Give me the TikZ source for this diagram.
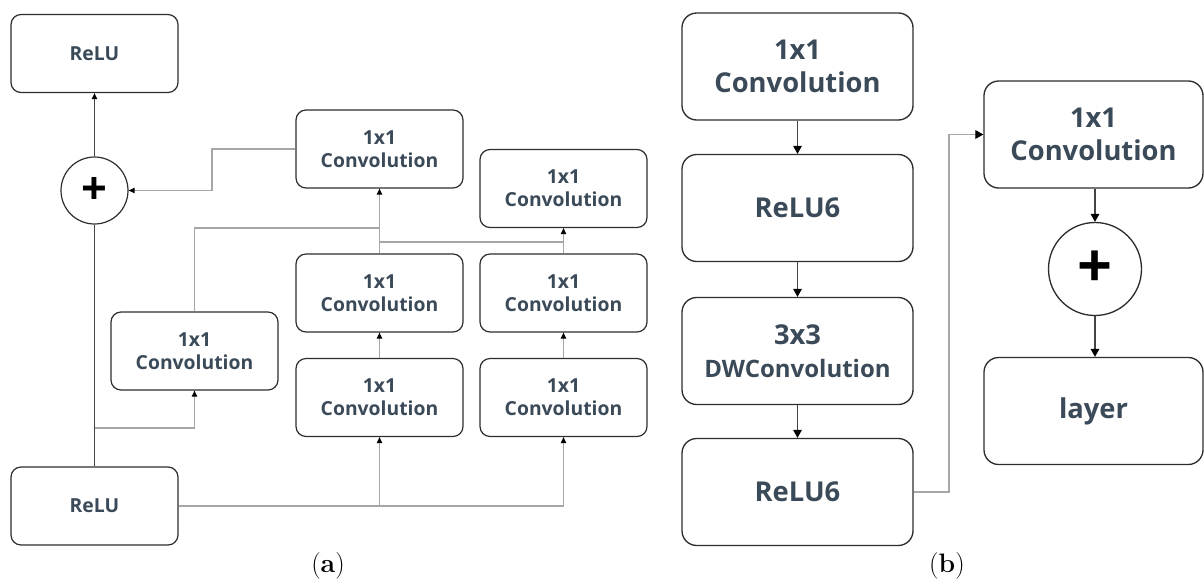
\documentclass[tikz,border=0pt]{standalone}
\usepackage{fontspec}
\setsansfont{Open Sans}
\usetikzlibrary{arrows.meta,calc}
\definecolor{txt}{HTML}{3B4A58}
\definecolor{bord}{HTML}{2E2E2E}
\definecolor{conn}{HTML}{A6A6A6}
\definecolor{dconn}{HTML}{444444}
\begin{document}
\begin{tikzpicture}[x=0.75pt,y=-0.75pt,
  abox/.style={draw=bord, line width=0.9pt, rounded corners=7.5pt, fill=white,
    minimum width=125.25pt, minimum height=58.5pt, inner sep=0pt, align=center,
    text=txt, font=\fontsize{14.5}{17.25}\selectfont\sffamily\bfseries},
  bbox/.style={draw=bord, line width=1pt, rounded corners=11pt, fill=white,
    minimum width=173.25pt, minimum height=80.25pt, inner sep=0pt, align=center,
    text=txt, font=\fontsize{20.5}{24.75}\selectfont\sffamily\bfseries},
  circa/.style={circle, draw=bord, line width=0.9pt, minimum size=50.25pt, inner sep=0pt,
    text=black, font=\fontsize{34}{34}\selectfont\sffamily\bfseries},
  circb/.style={circle, draw=bord, line width=1pt, minimum size=69.75pt, inner sep=0pt,
    text=black, font=\fontsize{46}{46}\selectfont\sffamily\bfseries},
  aline/.style={draw=conn, line width=0.8pt},
  dline/.style={draw=dconn, line width=0.8pt},
  ara/.style={-{Triangle[length=4.5pt,width=4pt,color=black]}},
  arb/.style={-{Triangle[length=6pt,width=6.5pt,color=black]}},
  captext/.style={font=\fontsize{20}{24}\selectfont\rmfamily, text=black}
]
\useasboundingbox (0,0) rectangle (1204,587);
% ---------- panel (a)
\node[abox] (reluT) at (94.5,53.5) {ReLU};
\node[circa] (pa) at (94.5,190.5) {+};
\node[abox] (reluB) at (94.5,506) {ReLU};
\node[abox] (m0) at (194.5,351) {1x1\\Convolution};
\node[abox] (c1t) at (379.5,149) {1x1\\Convolution};
\node[abox] (c1m) at (379.5,293) {1x1\\Convolution};
\node[abox] (c1b) at (379.5,397.5) {1x1\\Convolution};
\node[abox] (c2t) at (563.5,188.5) {1x1\\Convolution};
\node[abox] (c2m) at (563.5,293) {1x1\\Convolution};
\node[abox] (c2b) at (563.5,397.5) {1x1\\Convolution};

\coordinate (br) at (94.5,428);
\coordinate (j1) at (379.5,228);
\coordinate (x1) at (379.5,242);
\coordinate (x2) at (563.5,242);
\coordinate (k) at (212,149);
\coordinate (r1) at (379.5,506);
\coordinate (r2) at (563.5,506);

\draw[dline] (reluB.north) -- (pa.south);
\draw[dline,ara] (pa.north) -- (reluT.south);
\draw[aline,ara] (br) -| (m0.south);
\draw[aline] (m0.north) |- (j1);
\draw[aline,ara] (c1m.north) -- (c1t.south);
\draw[aline,ara] (c2m.north) -- (c2t.south);
\draw[aline] (x1) -- (x2);
\draw[aline,ara] (c1t.west) -- (k) |- (pa.east);
\draw[aline] (reluB.east) -- (r2);
\draw[aline,ara] (r1) -- (c1b.south);
\draw[aline,ara] (r2) -- (c2b.south);
\draw[aline,ara] (c1b.north) -- (c1m.south);
\draw[aline,ara] (c2b.north) -- (c2m.south);

\node[captext] (capa) at (328,566) {(\textbf{a})};

% ---------- panel (b)
\node[bbox] (A) at (797.5,66.5) {1x1\\Convolution};
\node[bbox] (B) at (797.5,208) {ReLU6};
\node[bbox] (C) at (797.5,351) {3x3\\{\fontsize{18}{24.75}\selectfont DWConvolution}};
\node[bbox] (D) at (797.5,492) {ReLU6};
\node[bbox, minimum width=164.25pt] (E) at (1093.5,134.5) {1x1\\Convolution};
\node[circb] (pb) at (1095,269) {+};
\node[bbox, minimum width=164.25pt] (F) at (1093.5,411) {layer};

\coordinate (t1) at (949,492);
\draw[dline,arb] (A.south) -- (B.north);
\draw[dline,arb] (B.south) -- (C.north);
\draw[dline,arb] (C.south) -- (D.north);
\draw[aline,arb] (D.east) -- (t1) |- (E.west);
\draw[dline,arb] (E.south -| pb.north) -- (pb.north);
\draw[dline,arb] (pb.south) -- (F.north -| pb.south);

\node[captext] (capb) at (947,566) {(\textbf{b})};
\end{tikzpicture}
\end{document}
